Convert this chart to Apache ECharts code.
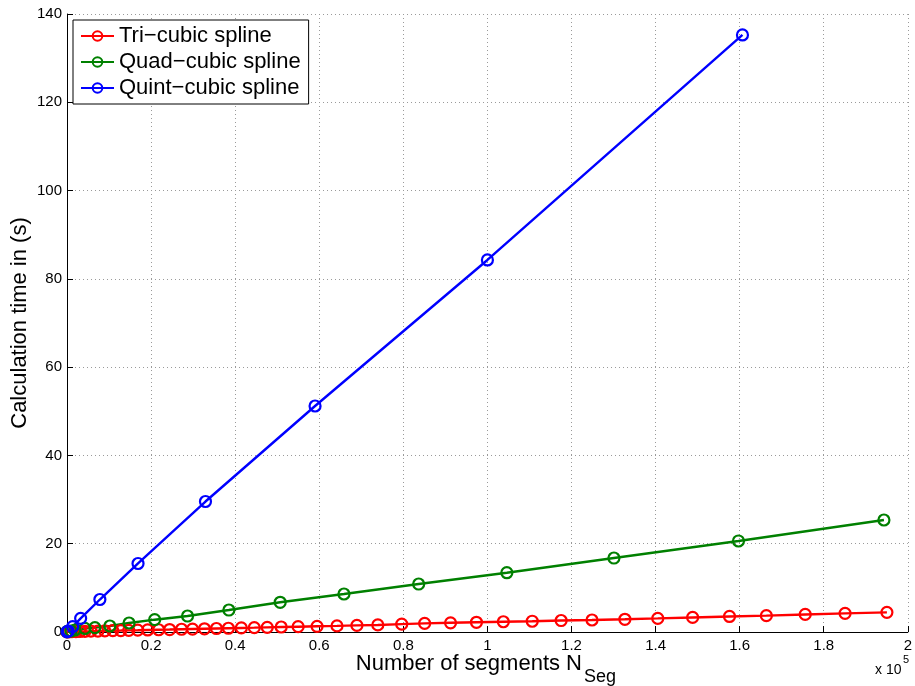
<!DOCTYPE html>
<html>
<head>
<meta charset="utf-8">
<script src="https://cdn.jsdelivr.net/npm/echarts@6/dist/echarts.min.js"></script>
<style>
html,body{margin:0;padding:0;background:#fff;}
#chart{width:915px;height:686px;}
</style>
</head>
<body>
<div id="chart"></div>
<script>
// Number of segments (x) and calculation time in seconds (y)
const triX = [0, 474, 1185, 2133, 3081, 4265, 5687, 7346, 9005, 10900, 12796, 14692, 16825, 19194, 21801, 24408, 27251, 29858, 32701, 35545, 38389, 41469, 44550, 47630, 50948, 54976, 59479, 64218, 68957, 73934, 79621, 85071, 91232, 97393, 103791, 110664, 117536, 124882, 132701, 140521, 148815, 157583, 166351, 175592, 185071, 195024];
const triY = [0.02, 0.05, 0.08, 0.1, 0.12, 0.15, 0.18, 0.22, 0.25, 0.3, 0.33, 0.37, 0.41, 0.46, 0.51, 0.56, 0.62, 0.67, 0.73, 0.79, 0.85, 0.92, 0.98, 1.05, 1.13, 1.2, 1.29, 1.38, 1.5, 1.6, 1.78, 1.95, 2.08, 2.2, 2.32, 2.44, 2.6, 2.72, 2.88, 3.08, 3.3, 3.52, 3.7, 3.98, 4.22, 4.45];

const quadX = [0, 948, 1896, 4265, 6635, 10190, 14763, 20853, 28673, 38507, 50711, 65877, 83649, 104621, 130095, 159716, 194313];
const quadY = [0.1, 0.23, 0.45, 0.8, 1.0, 1.36, 2.04, 2.79, 3.62, 4.98, 6.73, 8.61, 10.87, 13.43, 16.76, 20.62, 25.37];

const quintX = [0, 308, 1351, 3246, 7820, 16896, 32938, 59005, 100000, 160664];
const quintY = [0.05, 0.23, 1.2, 3.1, 7.36, 15.52, 29.56, 51.2, 84.28, 135.25];

const seriesNames = ['Tri\u2212cubic spline', 'Quad\u2212cubic spline', 'Quint\u2212cubic spline'];
const seriesColors = ['#ff0000', '#008000', '#0000ff'];

const xTitle = 'Number of segments N';
const xTitleSub = 'Seg';
const yTitle = 'Calculation time in (s)';

const FONT = '"Liberation Sans", Arial, Helvetica, sans-serif';

function zip(xs, ys) { return xs.map((x, i) => [x, ys[i]]); }

const dataSets = [zip(triX, triY), zip(quadX, quadY), zip(quintX, quintY)];

const chart = echarts.init(document.getElementById('chart'), null, {renderer: 'canvas'});

const gridLine = {show: true, lineStyle: {color: '#9a9a9a', width: 1, type: [1, 3]}};

const option = {
  backgroundColor: '#ffffff',
  animation: false,
  textStyle: {fontFamily: FONT},
  grid: {left: 67, right: 4, top: 14, bottom: 54, containLabel: false},
  xAxis: {
    type: 'value', min: 0, max: 200000, interval: 20000,
    axisLine: {show: true, onZero: false, lineStyle: {color: '#000', width: 1}},
    axisTick: {show: true, inside: true, length: 6, lineStyle: {color: '#000'}},
    axisLabel: {color: '#000', fontSize: 15, fontFamily: FONT, margin: 6,
      formatter: v => String(parseFloat((v / 100000).toFixed(1)))},
    splitLine: gridLine
  },
  yAxis: {
    type: 'value', min: 0, max: 140, interval: 20,
    axisLine: {show: true, onZero: false, lineStyle: {color: '#000', width: 1}},
    axisTick: {show: true, inside: true, length: 6, lineStyle: {color: '#000'}},
    axisLabel: {color: '#000', fontSize: 15, fontFamily: FONT, margin: 5},
    splitLine: gridLine
  },
  legend: {
    show: true, orient: 'vertical', left: 73, top: 20,
    padding: [3, 8, 3, 7], itemGap: 0, itemWidth: 33, itemHeight: 12,
    backgroundColor: '#fff', borderColor: '#000', borderWidth: 1, borderRadius: 0,
    textStyle: {fontSize: 22, color: '#000', fontFamily: FONT, lineHeight: 26},
    data: seriesNames
  },
  series: dataSets.map((d, i) => ({
    name: seriesNames[i], type: 'line', data: d,
    symbol: 'circle', symbolSize: 11, showAllSymbol: true,
    lineStyle: {color: seriesColors[i], width: 2.4},
    itemStyle: {color: 'rgba(255,255,255,0)', borderColor: seriesColors[i], borderWidth: 2.2},
    emphasis: {disabled: true}
  })),
  graphic: [
    {type: 'text', x: 582, y: 664, style: {text: xTitle, fill: '#000', font: '22px ' + FONT, textAlign: 'right', verticalAlign: 'middle'}},
    {type: 'text', x: 584, y: 677, style: {text: xTitleSub, fill: '#000', font: '18px ' + FONT, textAlign: 'left', verticalAlign: 'middle'}},
    {type: 'text', x: 20, y: 323, rotation: Math.PI / 2, style: {text: yTitle, fill: '#000', font: '22px ' + FONT, textAlign: 'center', verticalAlign: 'middle'}},
    {type: 'text', x: 875, y: 670, style: {text: 'x 10', fill: '#000', font: '14px ' + FONT, textAlign: 'left', verticalAlign: 'middle'}},
    {type: 'text', x: 903, y: 660, style: {text: '5', fill: '#000', font: '11px ' + FONT, textAlign: 'left', verticalAlign: 'middle'}}
  ]
};
chart.setOption(option);
</script>
</body>
</html>
